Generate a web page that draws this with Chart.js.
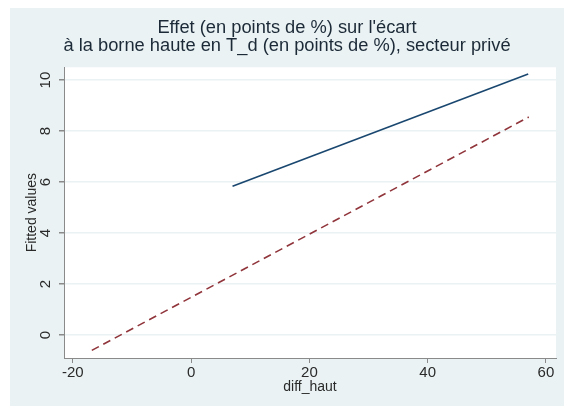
<!DOCTYPE html>
<html>
<head>
<meta charset="utf-8">
<script src="https://cdn.jsdelivr.net/npm/chart.js@4/dist/chart.umd.min.js"></script>
<style>
  html, body { margin: 0; padding: 0; background: #fff; }
  #wrap { position: absolute; left: 10px; top: 8px; width: 554px; height: 398px; background: #eaf2f3; }
</style>
</head>
<body>
<div id="wrap"><canvas id="chart" width="554" height="398"></canvas></div>
<script>
// fitted line (solid) and 45-degree-ish reference (dashed)
var fitX = [7, 57];
var fitY = [5.84, 10.24];
var refX = [-16.8, 57.1];
var refY = [-0.6, 8.55];
var xTicks = [-20, 0, 20, 40, 60];
var yTicks = [0, 2, 4, 6, 8, 10];

var toPoints = function(xs, ys) {
  return xs.map(function(x, i) { return { x: x, y: ys[i] }; });
};

var font = "'Liberation Sans', Arial, sans-serif";
Chart.defaults.font.family = font;

// white plot region + y labels turned 90 degrees like Stata does
var stataLook = {
  id: 'stataLook',
  beforeDraw: function(chart) {
    var a = chart.chartArea, ctx = chart.ctx;
    ctx.save();
    ctx.fillStyle = '#ffffff';
    ctx.fillRect(a.left, a.top, a.right - a.left, a.bottom - a.top);
    ctx.restore();
  },
  afterDraw: function(chart) {
    var s = chart.scales.y, ctx = chart.ctx;
    ctx.save();
    ctx.fillStyle = '#2a2a2a';
    ctx.font = '15px ' + font;
    ctx.textAlign = 'center';
    ctx.textBaseline = 'middle';
    s.ticks.forEach(function(t, i) {
      ctx.save();
      ctx.translate(s.right - 18, s.getPixelForTick(i));
      ctx.rotate(-Math.PI / 2);
      ctx.fillText(String(t.value), 0, 0);
      ctx.restore();
    });
    ctx.restore();
  }
};

var ctx = document.getElementById('chart').getContext('2d');
var chart = new Chart(ctx, {
  type: 'scatter',
  data: {
    datasets: [{
      data: toPoints(fitX, fitY),
      showLine: true,
      borderColor: '#1a476f',
      borderWidth: 1.6,
      pointRadius: 0
    }, {
      data: toPoints(refX, refY),
      showLine: true,
      borderColor: '#90353b',
      borderWidth: 1.6,
      borderDash: [8, 5],
      pointRadius: 0
    }]
  },
  options: {
    responsive: false,
    animation: false,
    layout: { padding: { left: 8, right: 8, top: 0, bottom: 0 } },
    plugins: {
      legend: { display: false },
      tooltip: { enabled: false },
      title: {
        display: true,
        text: ["Effet (en points de %) sur l'écart", "à la borne haute en T_d (en points de %), secteur privé"],
        color: '#1c2a38',
        font: { size: 18.3, weight: 'normal', lineHeight: 1.0 },
        padding: { top: 11, bottom: 11.7 }
      }
    },
    scales: {
      x: {
        type: 'linear',
        min: -21.5,
        max: 61.7,
        afterBuildTicks: function(s) { s.ticks = xTicks.map(function(v) { return { value: v }; }); },
        afterFit: function(s) { s.height = 48; },
        ticks: { color: '#2a2a2a', font: { size: 15 }, padding: 1, maxRotation: 0 },
        grid: { drawOnChartArea: false, drawTicks: true, tickLength: 5, tickColor: '#8a8a8a' },
        border: { color: '#8a8a8a', width: 1 },
        title: { display: true, text: 'diff_haut', color: '#2a2a2a', font: { size: 14 }, padding: { top: 0, bottom: 10.6 } }
      },
      y: {
        type: 'linear',
        min: -0.9,
        max: 10.5,
        afterBuildTicks: function(s) { s.ticks = yTicks.map(function(v) { return { value: v }; }); },
        afterFit: function(s) { s.width = 46; },
        ticks: { display: false },
        grid: { color: '#eaf2f3', lineWidth: 1.5, drawTicks: true, tickLength: 5, tickColor: '#8a8a8a' },
        border: { color: '#8a8a8a', width: 1 },
        title: { display: true, text: 'Fitted values', color: '#2a2a2a', font: { size: 14 }, padding: { top: 5.6, bottom: 0 } }
      }
    }
  },
  plugins: [stataLook]
});
</script>
</body>
</html>
